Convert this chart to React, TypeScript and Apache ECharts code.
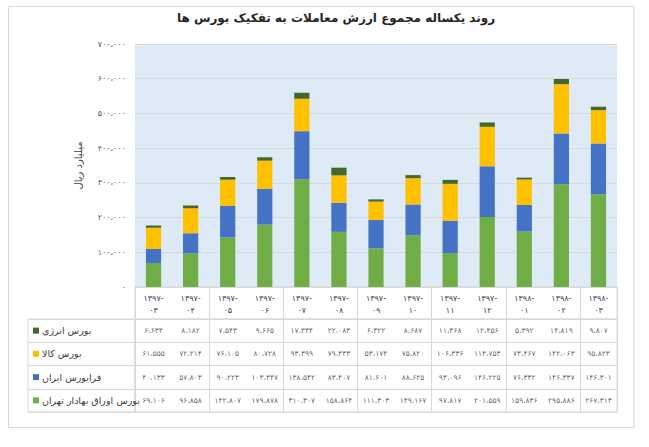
import React, { useEffect, useRef } from "react";
import * as echarts from "echarts";

const categories = [
  "۱۳۹۷-۰۳", "۱۳۹۷-۰۴", "۱۳۹۷-۰۵", "۱۳۹۷-۰۶", "۱۳۹۷-۰۷", "۱۳۹۷-۰۸", "۱۳۹۷-۰۹",
  "۱۳۹۷-۱۰", "۱۳۹۷-۱۱", "۱۳۹۷-۱۲", "۱۳۹۸-۰۱", "۱۳۹۸-۰۲", "۱۳۹۸-۰۳",
];

const energyName = "بورس انرژی";
const commodityName = "بورس کالا";
const faraName = "فرابورس ایران";
const tseName = "بورس اوراق بهادار تهران";

const energy = [6634, 8182, 7543, 9665, 17334, 22083, 6322, 8687, 11368, 12456, 5392, 14819, 9807];
const commodity = [61555, 72214, 76105, 80728, 93399, 79333, 53174, 75820, 106336, 113753, 73467, 142063, 95823];
const fara = [40133, 57803, 90223, 103347, 138542, 83407, 81601, 88625, 93096, 146225, 76332, 146337, 146301];
const tse = [69106, 96858, 142807, 179878, 310307, 158864, 111303, 149167, 97817, 201559, 159836, 295886, 267313];

const yTicks = { min: 0, max: 700000, interval: 100000 };

const titleText = "روند یکساله مجموع ارزش معاملات به تفکیک بورس ها";
const yName = "میلیارد ریال";

const colors = {
  energy: "#43682B",
  commodity: "#FFC000",
  fara: "#4472C4",
  tse: "#70AD47",
};

const FA_DIGITS = "۰۱۲۳۴۵۶۷۸۹";
function fa(n: number): string {
  return n
    .toLocaleString("en-US")
    .replace(/\d/g, (d) => FA_DIGITS[Number(d)])
    .replace(/,/g, "،");
}

const FONT = "DejaVu Sans";
const GRID_LINE = "#D9D9D9";
const TEXT = "#404040";

export default function App() {
  const ref = useRef<HTMLDivElement>(null);

  useEffect(() => {
    if (!ref.current) return;
    const chart = echarts.init(ref.current, undefined, { renderer: "svg" });

    const rowNames = [energyName, commodityName, faraName, tseName];
    const rowSeries = [energy, commodity, fara, tse];
    const rowColors = [colors.energy, colors.commodity, colors.fara, colors.tse];

    const tableData: [number, number, number][] = [];
    rowSeries.forEach((arr, r) => {
      arr.forEach((v, i) => tableData.push([i, r, v]));
    });

    const plotLeft = 135;
    const plotWidth = 482;
    const plotTop = 44;
    const plotBottom = 287;
    const headerBottom = 319;
    const tableBottom = 412;

    const rich: Record<string, any> = {
      t: { fontSize: 9.5, color: TEXT, fontFamily: FONT, padding: [0, 0, 0, 3] },
    };
    rowColors.forEach((c, i) => {
      rich["s" + i] = { width: 6, height: 6, backgroundColor: c };
    });

    const option: any = {
      animation: false,
      backgroundColor: "#ffffff",
      textStyle: { fontFamily: FONT },
      title: {
        text: titleText,
        left: 331,
        top: 7,
        textAlign: "center",
        textStyle: { fontSize: 12, fontWeight: "bold", color: "#262626", fontFamily: FONT },
      },
      graphic: [
        {
          type: "rect",
          silent: true,
          z: -10,
          shape: { x: 8.5, y: 6.5, width: 625.5, height: 421 },
          style: { fill: "none", stroke: GRID_LINE, lineWidth: 1 },
        },
      ],
      grid: [
        {
          left: plotLeft,
          top: plotTop,
          width: plotWidth,
          height: plotBottom - plotTop,
          show: true,
          backgroundColor: "#DEEAF6",
          borderWidth: 0,
        },
        {
          left: plotLeft,
          top: plotBottom,
          width: plotWidth,
          height: headerBottom - plotBottom,
          show: true,
          borderColor: GRID_LINE,
          borderWidth: 1,
        },
        {
          left: plotLeft,
          top: headerBottom,
          width: plotWidth,
          height: tableBottom - headerBottom,
          show: true,
          borderColor: GRID_LINE,
          borderWidth: 1,
        },
        {
          left: 28,
          top: headerBottom,
          width: plotLeft - 28,
          height: tableBottom - headerBottom,
          show: true,
          borderColor: GRID_LINE,
          borderWidth: 1,
        },
      ],
      xAxis: [
        {
          type: "category",
          gridIndex: 0,
          data: categories,
          axisLine: { show: true, lineStyle: { color: GRID_LINE } },
          axisTick: { show: false },
          axisLabel: {
            interval: 0,
            fontSize: 8,
            lineHeight: 12,
            margin: 5,
            color: TEXT,
            fontFamily: FONT,
            formatter: (v: string) => {
              const [a, b] = v.split("-");
              return a + "-\n" + b;
            },
          },
        },
        {
          type: "category",
          gridIndex: 1,
          data: categories,
          axisLine: { show: false },
          axisTick: { show: false },
          axisLabel: { show: false },
          splitLine: { show: true, lineStyle: { color: GRID_LINE } },
        },
        {
          type: "category",
          gridIndex: 2,
          data: categories,
          axisLine: { show: false },
          axisTick: { show: false },
          axisLabel: { show: false },
          splitLine: { show: true, lineStyle: { color: GRID_LINE } },
        },
        { type: "value", gridIndex: 3, show: false },
      ],
      yAxis: [
        {
          type: "value",
          gridIndex: 0,
          min: yTicks.min,
          max: yTicks.max,
          interval: yTicks.interval,
          name: yName,
          nameLocation: "middle",
          nameRotate: 90,
          nameGap: 52,
          nameTextStyle: { fontSize: 10, color: TEXT, fontFamily: FONT },
          axisLine: { show: false },
          axisTick: { show: false },
          axisLabel: {
            fontSize: 8,
            color: "#595959",
            margin: 9,
            fontFamily: FONT,
            formatter: (v: number) => fa(v),
          },
          splitLine: { show: true, lineStyle: { color: GRID_LINE } },
        },
        { type: "value", gridIndex: 1, show: false },
        {
          type: "category",
          gridIndex: 2,
          data: rowNames,
          inverse: true,
          axisLine: { show: false },
          axisTick: { show: false },
          axisLabel: { show: false },
          splitLine: { show: true, lineStyle: { color: GRID_LINE } },
        },
        {
          type: "category",
          gridIndex: 3,
          data: rowNames,
          inverse: true,
          axisLine: { show: false },
          axisTick: { show: false },
          splitLine: { show: true, lineStyle: { color: GRID_LINE } },
          axisLabel: {
            inside: true,
            margin: 5,
            formatter: (v: string, i: number) => `{s${i}|}{t|${v}}`,
            rich,
          },
        },
      ],
      series: [
        {
          name: tseName,
          type: "bar",
          stack: "total",
          xAxisIndex: 0,
          yAxisIndex: 0,
          barWidth: "41%",
          itemStyle: { color: colors.tse },
          data: tse,
        },
        {
          name: faraName,
          type: "bar",
          stack: "total",
          xAxisIndex: 0,
          yAxisIndex: 0,
          barWidth: "41%",
          itemStyle: { color: colors.fara },
          data: fara,
        },
        {
          name: commodityName,
          type: "bar",
          stack: "total",
          xAxisIndex: 0,
          yAxisIndex: 0,
          barWidth: "41%",
          itemStyle: { color: colors.commodity },
          data: commodity,
        },
        {
          name: energyName,
          type: "bar",
          stack: "total",
          xAxisIndex: 0,
          yAxisIndex: 0,
          barWidth: "41%",
          itemStyle: { color: colors.energy },
          data: energy,
        },
        {
          name: "table",
          type: "scatter",
          xAxisIndex: 2,
          yAxisIndex: 2,
          symbolSize: 1,
          itemStyle: { color: "rgba(0,0,0,0)" },
          silent: true,
          label: {
            show: true,
            position: "inside",
            fontSize: 7.5,
            color: TEXT,
            fontFamily: FONT,
            formatter: (p: any) => fa(p.value[2]),
          },
          data: tableData,
        },
      ],
    };

    chart.setOption(option);
    return () => chart.dispose();
  }, []);

  return (
    <div
      ref={ref}
      style={{ position: "absolute", left: 0, top: 0, width: 649, height: 447 }}
    />
  );
}
